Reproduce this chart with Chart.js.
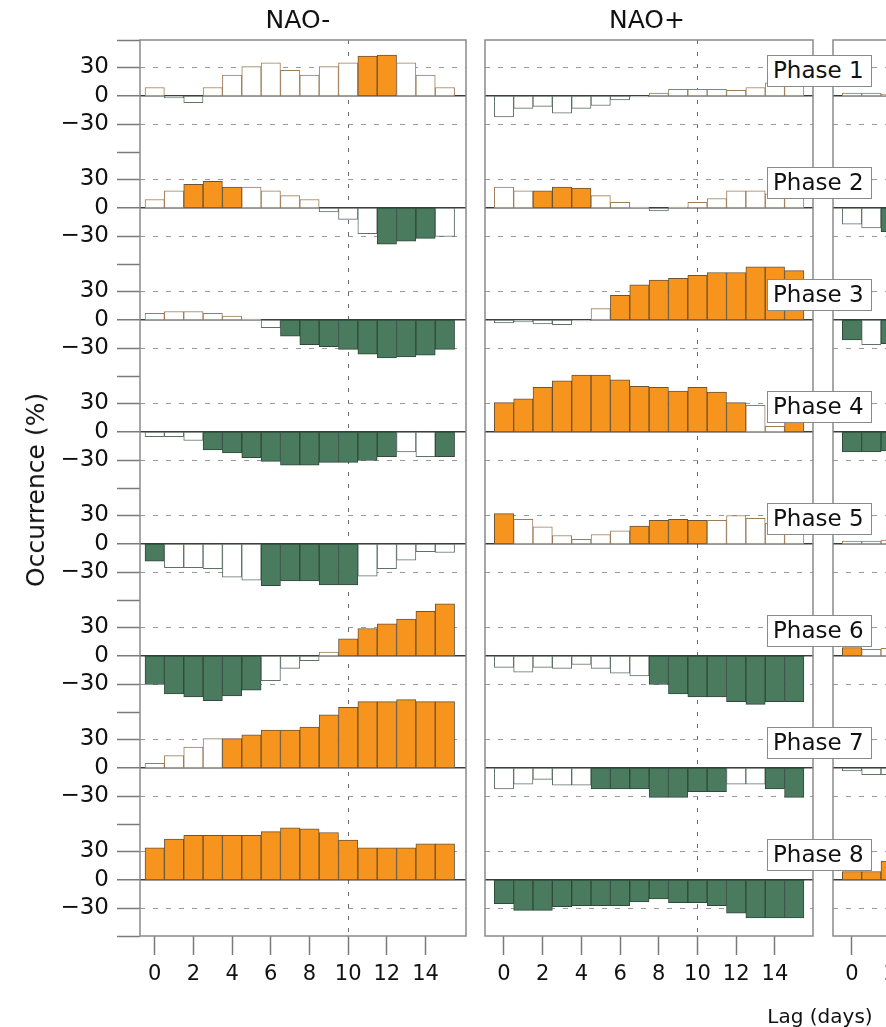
<!DOCTYPE html>
<html><head><meta charset="utf-8">
<script src="https://cdn.jsdelivr.net/npm/chart.js@4.4.1/dist/chart.umd.min.js"></script>
<style>
html,body{margin:0;padding:0;background:#fff;overflow:hidden;}
body{width:886px;height:1027px;position:relative;font-family:"DejaVu Sans",sans-serif;color:#111;}
canvas{position:absolute;top:0;}
.t{position:absolute;white-space:nowrap;line-height:32px;}
.phase{position:absolute;left:767px;width:105px;height:32px;box-sizing:border-box;border:1.5px solid #8a8a8a;background:#fff;font-size:23px;line-height:29px;padding-left:5px;z-index:5;white-space:nowrap;}
</style></head><body>
<canvas id="cMinus" width="470" height="1027" style="left:0"></canvas>
<canvas id="cPlus" width="346" height="1027" style="left:470px"></canvas>
<canvas id="cThird" width="348" height="1027" style="left:816px"></canvas>
<div class="t" style="left:298px;top:4px;font-size:25px;transform:translateX(-50%)">NAO-</div>
<div class="t" style="left:647px;top:4px;font-size:25px;transform:translateX(-50%)">NAO+</div>
<div class="t" style="left:36px;top:490px;font-size:25px;transform:translate(-50%,-50%) rotate(-90deg)">Occurrence (%)</div>
<div class="t" style="left:820px;top:1003px;font-size:20px;line-height:26px;transform:translateX(-50%)">Lag (days)</div>
<div id="phases"></div>
<script>
// ---- data ----
const lags = [0,1,2,3,4,5,6,7,8,9,10,11,12,13,14,15];
const xTickValues = [0,2,4,6,8,10,12,14];
const yTickLabels = ['30','0','\u221230'];
const phaseLabels = ['Phase 1','Phase 2','Phase 3','Phase 4','Phase 5','Phase 6','Phase 7','Phase 8'];

// NAO- occurrence anomalies (%), one row per phase, lag 0..15
const naoMinusValues = [
  [9,-2,-7,9,22,31,35,27,22,31,35,42,43,35,22,9],
  [9,18,25,28,22,22,18,13,9,-4,-12,-27,-38,-35,-32,-30],
  [7,9,9,7,4,1,-8,-17,-26,-28,-31,-36,-40,-39,-37,-31],
  [-5,-5,-9,-19,-22,-27,-31,-35,-35,-32,-32,-30,-26,-21,-26,-26],
  [-18,-25,-25,-26,-35,-38,-44,-39,-39,-43,-43,-34,-26,-17,-8,-9],
  [-30,-40,-43,-47,-42,-36,-26,-13,-5,4,18,29,34,39,47,55],
  [5,13,22,31,31,35,40,40,43,56,64,70,70,72,70,70],
  [34,43,47,47,47,47,51,55,54,50,42,34,34,34,38,38]
];
const naoMinusSig = [
  [0,0,0,0,0,0,0,0,0,0,0,1,1,0,0,0],
  [0,0,1,1,1,0,0,0,0,0,0,0,1,1,1,0],
  [0,0,0,0,0,0,0,1,1,1,1,1,1,1,1,1],
  [0,0,0,1,1,1,1,1,1,1,1,1,1,0,0,1],
  [1,0,0,0,0,0,1,1,1,1,1,0,0,0,0,0],
  [1,1,1,1,1,1,0,0,0,0,1,1,1,1,1,1],
  [0,0,0,0,1,1,1,1,1,1,1,1,1,1,1,1],
  [1,1,1,1,1,1,1,1,1,1,1,1,1,1,1,1]
];
// NAO+
const naoPlusValues = [
  [-22,-13,-11,-18,-13,-10,-4,-1,3,7,7,7,6,9,14,12],
  [22,18,18,22,21,13,6,1,-3,1,6,10,18,18,15,14],
  [-3,-2,-4,-5,-1,12,26,37,42,44,47,50,50,56,56,52],
  [31,35,47,54,60,60,55,48,47,43,47,42,31,28,6,11],
  [32,26,18,9,5,10,14,19,25,26,25,25,30,27,22,20],
  [-12,-17,-12,-13,-9,-13,-18,-21,-30,-40,-43,-43,-48,-51,-48,-48],
  [-22,-17,-12,-18,-18,-22,-22,-22,-31,-31,-25,-25,-17,-17,-22,-31],
  [-25,-32,-32,-28,-27,-27,-27,-23,-20,-24,-24,-27,-35,-40,-40,-40]
];
const naoPlusSig = [
  [0,0,0,0,0,0,0,0,0,0,0,0,0,0,0,0],
  [0,0,1,1,1,0,0,0,0,0,0,0,0,0,0,0],
  [0,0,0,0,0,0,1,1,1,1,1,1,1,1,1,1],
  [1,1,1,1,1,1,1,1,1,1,1,1,1,0,0,1],
  [1,0,0,0,0,0,0,1,1,1,1,0,0,0,0,0],
  [0,0,0,0,0,0,0,0,1,1,1,1,1,1,1,1],
  [0,0,0,0,0,1,1,1,1,1,1,1,0,0,1,1],
  [1,1,1,1,1,1,1,1,1,1,1,1,1,1,1,1]
];
// third (cut-off) panel, only lags 0..2 visible
const thirdValues = [
  [3,3,2],[-17,-21,-25],[-21,-26,-25],[-21,-21,-20],
  [3,3,4],[9,7,8],[-3,-7,-7],[9,9,20]
];
const thirdSig = [
  [0,0,0],[0,0,1],[1,0,1],[1,1,1],
  [0,0,0],[1,0,0],[0,0,0],[1,1,1]
];

// ---- layout helpers ----
const ROW = 118, NROW = 8;
const rowCenter = k => (NROW / 2 - 0.5 - k) * ROW;
const yInfo = new Map();
for (let k = 0; k < NROW; k++) {
  const c = rowCenter(k);
  yInfo.set(c + 30, {label: yTickLabels[0], type: 'grid'});
  yInfo.set(c, {label: yTickLabels[1], type: 'zero'});
  yInfo.set(c - 30, {label: yTickLabels[2], type: 'grid'});
}
for (let j = 0; j <= NROW; j++) yInfo.set((NROW / 2 - j) * ROW, {label: '', type: 'bound'});
const yTickVals = [...yInfo.keys()].sort((a, b) => a - b);

const ORANGE = '#F7941D', GREEN = '#4A7B5F';
function barStyle(v, s) {
  if (s) return v >= 0 ? [ORANGE, '#6a5434'] : [GREEN, '#2f4a3b'];
  return ['#ffffff', v >= 0 ? '#9c7b57' : '#5f7066'];
}
const typeOf = c => (c.tick && yInfo.get(c.tick.value)) ? yInfo.get(c.tick.value).type : null;

const framePlugin = {
  id: 'frame',
  afterDraw(chart) {
    const {ctx, chartArea: a} = chart;
    ctx.save();
    ctx.strokeStyle = '#8a8a8a';
    ctx.lineWidth = 1.5;
    ctx.strokeRect(a.left, a.top, a.right - a.left, a.bottom - a.top);
    ctx.restore();
  }
};

function makePanel(id, values, sig, o) {
  const datasets = values.map((row, k) => {
    const c = rowCenter(k);
    const st = row.map((v, i) => barStyle(v, sig[k][i]));
    return {
      label: phaseLabels[k],
      data: row.map((v, i) => ({x: lags[i], y: [c, c + v]})),
      backgroundColor: st.map(s => s[0]),
      borderColor: st.map(s => s[1]),
      borderWidth: 1,
      borderSkipped: false,
      grouped: false,
      barPercentage: 1,
      categoryPercentage: 1
    };
  });
  return new Chart(document.getElementById(id), {
    type: 'bar',
    data: {datasets},
    options: {
      responsive: false,
      animation: false,
      devicePixelRatio: 1,
      layout: {padding: {top: 40, left: o.padLeft, right: o.padRight, bottom: 0}},
      plugins: {legend: {display: false}, tooltip: {enabled: false}},
      scales: {
        x: {
          type: 'linear', min: o.xMin, max: o.xMax, offset: false, z: 1,
          afterBuildTicks: s => { s.ticks = xTickValues.map(v => ({value: v})); },
          afterFit: s => { s.height = 91; },
          ticks: {autoSkip: false, maxRotation: 0, padding: 7, color: '#111',
                  font: {family: 'DejaVu Sans', size: 21}, callback: v => String(v)},
          grid: {offset: false, drawTicks: true, tickLength: 19, tickWidth: 1.5, tickColor: '#7a7a7a',
                 lineWidth: 1, color: c => (c.tick && c.tick.value === 10) ? '#6a6a6a' : 'rgba(0,0,0,0)'},
          border: {display: false, dash: c => (c.tick && c.tick.value === 10) ? [4, 8] : []}
        },
        y: {
          type: 'linear', min: -NROW / 2 * ROW, max: NROW / 2 * ROW, z: 1,
          afterBuildTicks: s => { s.ticks = yTickVals.map(v => ({value: v})); },
          afterFit: s => { s.width = o.yWidth; },
          ticks: {display: o.yLabels, autoSkip: false, padding: 8, color: '#111',
                  font: {family: 'DejaVu Sans', size: 23},
                  callback: v => (yInfo.get(v) ? yInfo.get(v).label : '')},
          grid: {drawTicks: o.yLabels, tickLength: 23, tickWidth: 1.5, tickColor: '#7a7a7a',
                 color: c => { const t = typeOf(c); return t === 'zero' ? '#3c3c3c' : t === 'grid' ? '#9a9a9a' : 'rgba(0,0,0,0)'; },
                 lineWidth: c => typeOf(c) === 'zero' ? 1.5 : 1},
          border: {display: false, dash: c => typeOf(c) === 'grid' ? [5, 8] : []}
        }
      }
    },
    plugins: [framePlugin]
  });
}

makePanel('cMinus', naoMinusValues, naoMinusSig, {padLeft: 0, padRight: 4, yWidth: 140, yLabels: true, xMin: -0.76, xMax: 16.09});
makePanel('cPlus', naoPlusValues, naoPlusSig, {padLeft: 15, padRight: 3, yWidth: 0, yLabels: false, xMin: -0.98, xMax: 15.97});
makePanel('cThird', thirdValues, thirdSig, {padLeft: 17, padRight: 3, yWidth: 0, yLabels: false, xMin: -0.98, xMax: 15.97});

// phase label boxes
const ph = document.getElementById('phases');
phaseLabels.forEach((p, k) => {
  const d = document.createElement('div');
  d.className = 'phase';
  d.style.top = (96 + 112 * k - 41) + 'px';
  d.textContent = p;
  ph.appendChild(d);
});
</script>
</body></html>
